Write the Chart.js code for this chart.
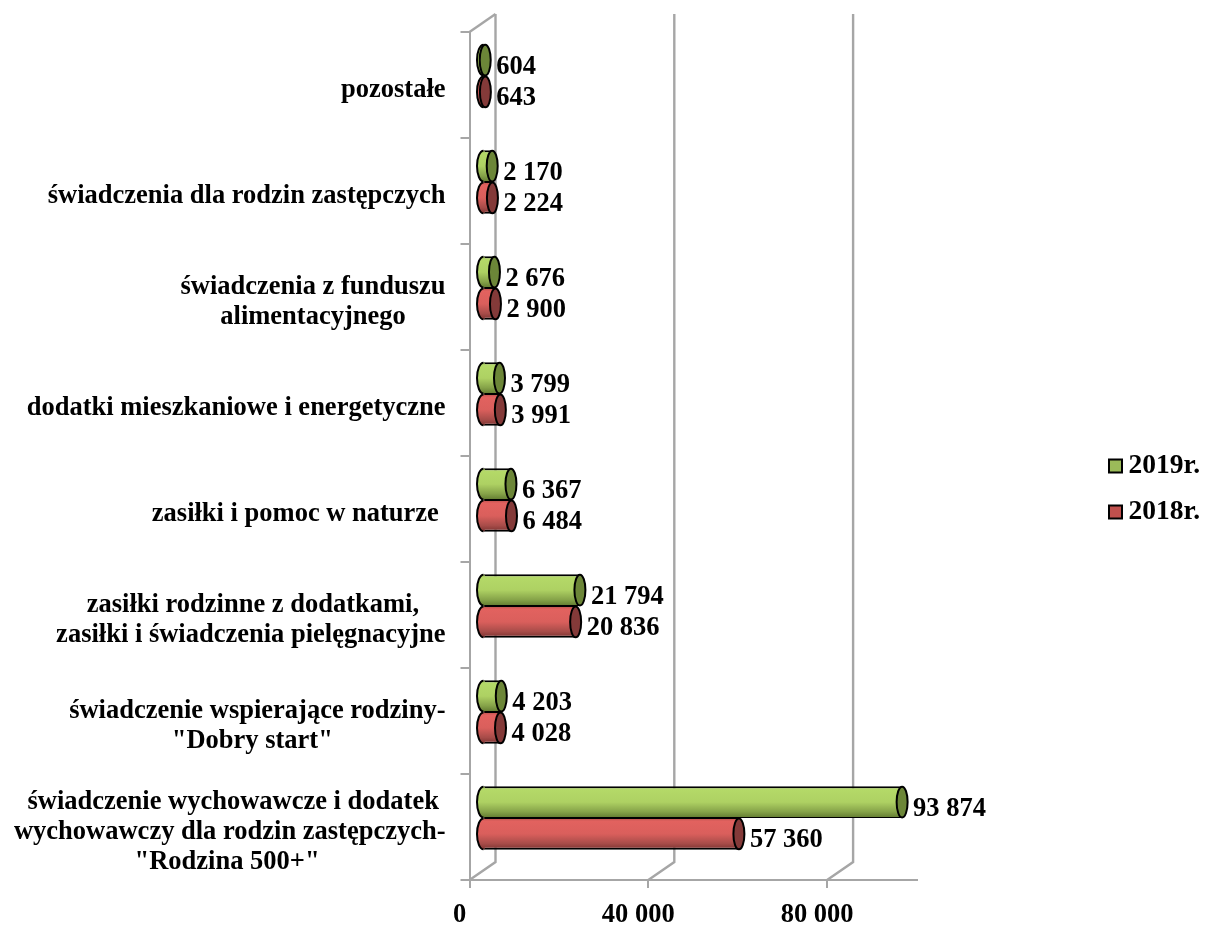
<!DOCTYPE html>
<html><head><meta charset="utf-8">
<style>html,body{margin:0;padding:0;background:#fff}canvas{display:block}</style>
<script src="https://cdn.jsdelivr.net/npm/chart.js@4/dist/chart.umd.min.js"></script>
</head><body><div style="width:1209px;height:925px"><canvas id="c"></canvas></div>
<script>
const pad = n => ' '.repeat(n);
const categories = [
  ['świadczenie wychowawcze i dodatek ', 'wychowawczy dla rodzin zastępczych-', '"Rodzina 500+"' + pad(19)],
  ['świadczenie wspierające rodziny-', '"Dobry start"' + pad(17)],
  ['zasiłki rodzinne z dodatkami,' + pad(4), 'zasiłki i świadczenia pielęgnacyjne'],
  'zasiłki i pomoc w naturze ',
  'dodatki mieszkaniowe i energetyczne',
  ['świadczenia z funduszu', 'alimentacyjnego' + pad(6)],
  'świadczenia dla rodzin zastępczych',
  'pozostałe'
];
const values2019 = [93874, 4203, 21794, 6367, 3799, 2676, 2170, 604];
const values2018 = [57360, 4028, 20836, 6484, 3991, 2900, 2224, 643];
const seriesNames = ['2019r.', '2018r.'];
const xTickValues = [0, 40000, 80000];
const legendColors = ['#9bbb59', '#c0504d'];
const capColors = ['#6c8638', '#843a39'];
const gradients = [
  [[0,'#93b052'],[0.1,'#b4d968'],[0.5,'#aed163'],[0.8,'#86a349'],[1,'#617a30']],
  [[0,'#b8504d'],[0.1,'#e2625f'],[0.5,'#da5f5c'],[0.8,'#a84c49'],[1,'#7a3230']]
];
const FONT = 'bold 26.5px "Liberation Serif"';
const fontSpec = {family:'"Liberation Serif"', weight:'bold', size:26.5, lineHeight:'30px'};
const legendFont = {family:'"Liberation Serif"', weight:'bold', size:27.5, lineHeight:'30px'};
const GRID = '#a6a6a6';
const DX = 26, DY = -18, BARDX = 13, BARDY = -9, RX = 5.5, RXL = 6.5;
const fmt = v => String(v).replace(/\B(?=(\d{3})+$)/g, ' ');
const CAT_PCT = 0.6;
const LW = 2;

function barGradient(ctx){
  const chart = ctx.chart, y = chart.scales.y;
  if (!y || ctx.dataIndex === undefined) return legendColors[ctx.datasetIndex];
  const band = Math.abs(y.getPixelForValue(1) - y.getPixelForValue(0));
  const t = band * CAT_PCT / 2;
  const c = y.getPixelForValue(ctx.dataIndex);
  const top = ctx.datasetIndex === 0 ? c - t : c;
  const g = chart.ctx.createLinearGradient(0, top, 0, top + t);
  gradients[ctx.datasetIndex].forEach(s => g.addColorStop(s[0], s[1]));
  return g;
}

const cyl = {
  id:'cyl',
  beforeLayout(chart){
    const l = chart.legend;
    if (l && !l._wrapped){
      const f = l.fit;
      l.fit = function(){ f.call(this); this.width = 292.5; };
      l._wrapped = true;
    }
  },
  afterLayout(chart){
    const l = chart.legend;
    l.left = 1090.5; l.right = 1200; l.top = 433.75; l.bottom = 560; l.width = 109.5;
    l.adjustHitBoxes();
  },
  beforeDatasetsDraw(chart){
    const {ctx, chartArea:a, scales:{x}} = chart;
    ctx.save();
    ctx.strokeStyle = GRID; ctx.lineWidth = 2.4;
    x.ticks.forEach(t => {
      const px = x.getPixelForValue(t.value);
      ctx.beginPath();
      ctx.moveTo(px, a.bottom);
      ctx.lineTo(px + DX, a.bottom + DY);
      ctx.lineTo(px + DX, a.top + DY);
      ctx.stroke();
    });
    const p0 = x.getPixelForValue(0);
    ctx.beginPath(); ctx.moveTo(p0, a.top); ctx.lineTo(p0 + DX, a.top + DY); ctx.stroke();
    ctx.restore();
  },
  beforeDatasetDraw(chart){
    const ctx = chart.ctx;
    ctx.save();
    ctx.translate(BARDX, BARDY);
  },
  afterDatasetDraw(chart, args){
    const ctx = chart.ctx;
    args.meta.data.forEach(el => {
      const ry = el.height/2 - 0.5;
      ctx.beginPath();
      ctx.ellipse(el.base, el.y, RXL, ry, 0, Math.PI/2, Math.PI*1.5);
      ctx.lineTo(el.base + 1.2, el.y - ry);
      ctx.lineTo(el.base + 1.2, el.y + ry);
      ctx.closePath();
      ctx.fillStyle = el.options.backgroundColor;
      ctx.fill();
      ctx.beginPath();
      ctx.ellipse(el.base, el.y, RXL, ry, 0, Math.PI/2, Math.PI*1.5);
      ctx.strokeStyle = '#000'; ctx.lineWidth = LW;
      ctx.stroke();
    });
    ctx.restore();
  },
  afterDatasetsDraw(chart){
    const ctx = chart.ctx;
    ctx.save();
    ctx.translate(BARDX, BARDY);
    chart.data.datasets.forEach((ds, i) => {
      chart.getDatasetMeta(i).data.forEach(el => {
        ctx.beginPath();
        ctx.ellipse(el.x, el.y, RX, el.height/2 - 0.5, 0, 0, Math.PI*2);
        ctx.fillStyle = capColors[i];
        ctx.fill();
        ctx.strokeStyle = '#000'; ctx.lineWidth = LW;
        ctx.stroke();
      });
    });
    ctx.restore();
    ctx.save();
    ctx.font = FONT; ctx.fillStyle = '#000';
    ctx.textAlign = 'left'; ctx.textBaseline = 'middle';
    chart.data.datasets.forEach((ds, i) => {
      chart.getDatasetMeta(i).data.forEach((el, j) => {
        ctx.fillText(fmt(ds.data[j]), el.x + BARDX + 11, el.y + BARDY + (i === 0 ? 7.5 : 6.5));
      });
    });
    ctx.restore();
  }
};

new Chart(document.getElementById('c'), {
  type:'bar',
  plugins:[cyl],
  data:{
    labels:categories,
    datasets:[
      {label:seriesNames[0], data:values2019, backgroundColor:barGradient, borderColor:'#000', borderWidth:{top:2,bottom:1,right:1,left:0}, borderSkipped:'left', clip:false},
      {label:seriesNames[1], data:values2018, backgroundColor:barGradient, borderColor:'#000', borderWidth:{top:1,bottom:2,right:1,left:0}, borderSkipped:'left', clip:false}
    ]
  },
  options:{
    indexAxis:'y', responsive:true, maintainAspectRatio:false, animation:false,
    devicePixelRatio:1,
    layout:{padding:{top:32,left:0,right:0,bottom:0}},
    categoryPercentage:CAT_PCT, barPercentage:1,
    scales:{
      x:{
        min:0, max:100000,
        afterBuildTicks(s){ s.ticks = xTickValues.map(v => ({value:v})); },
        afterFit(s){ s.height = 45; s.paddingLeft = 0; s.paddingRight = 0; },
        border:{color:GRID, width:2},
        grid:{drawOnChartArea:false, color:GRID, lineWidth:2, tickLength:8},
        ticks:{autoSkip:false, maxRotation:0, color:'#000', font:fontSpec, labelOffset:-10, padding:12, callback:v => fmt(v)}
      },
      y:{
        reverse:true,
        afterFit(s){ s.width = 469.5; s.paddingTop = 0; s.paddingBottom = 0; },
        border:{color:GRID, width:2},
        grid:{drawOnChartArea:false, offset:true, color:GRID, lineWidth:2, tickLength:9},
        ticks:{autoSkip:false, color:'#000', font:fontSpec, padding:15, labelOffset:5}
      }
    },
    plugins:{
      tooltip:{enabled:false},
      legend:{
        position:'right', align:'start',
        labels:{
          boxWidth:13, boxHeight:13, padding:18.5, color:'#000', textAlign:'right', font:legendFont,
          generateLabels(){
            return seriesNames.map((n,i) => ({text:n, datasetIndex:i, fillStyle:legendColors[i], strokeStyle:'#000', lineWidth:LW, fontColor:'#000', hidden:false}));
          }
        }
      }
    }
  }
});
</script></body></html>
